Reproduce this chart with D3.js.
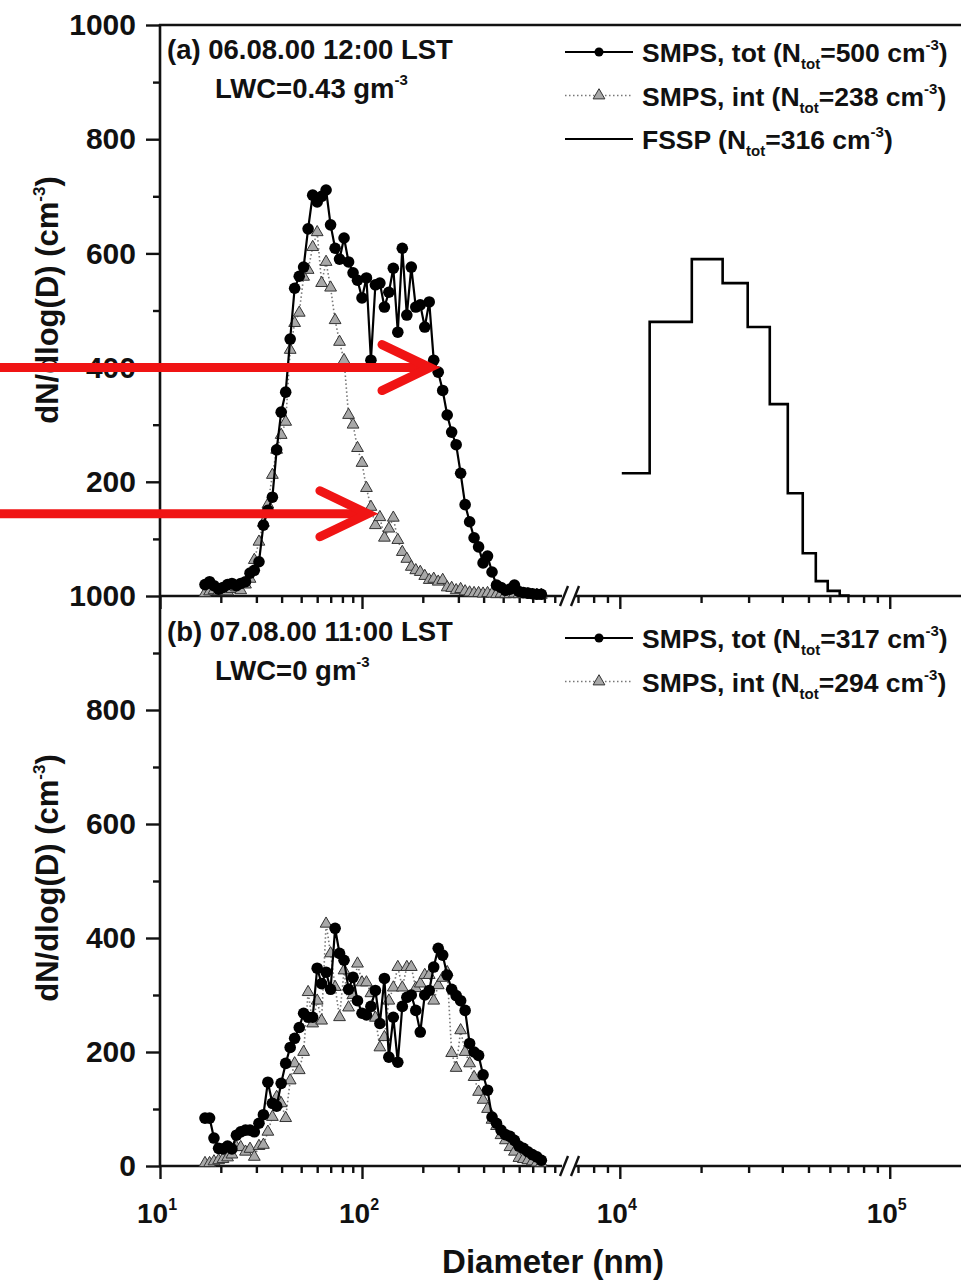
<!DOCTYPE html>
<html>
<head>
<meta charset="utf-8">
<script src="https://cdn.jsdelivr.net/npm/d3@7/dist/d3.min.js"></script>
<style>
body { margin: 0; background: #fff; }
text { font-family: 'Liberation Sans', Arial, sans-serif; font-weight: bold; fill: #111; }
</style>
</head>
<body>
<div class="graph"></div>
<script>
// SMPS channel diameters (nm), shared by both panels
var smpsDiam = [16.7, 17.6, 18.5, 19.5, 20.5, 21.6, 22.7, 23.9, 25.1, 26.5,
    27.9, 29.3, 30.9, 32.5, 34.2, 36.0, 37.8, 39.8, 41.9, 44.1,
    46.4, 48.9, 51.4, 54.1, 57.0, 60.0, 63.1, 66.4, 69.9, 73.6,
    77.4, 81.5, 85.8, 90.3, 95.0, 100.0, 105.2, 110.7, 116.5, 122.6,
    129.1, 135.8, 142.9, 150.4, 158.3, 166.7, 175.4, 184.6, 194.3, 204.5,
    215.2, 226.5, 238.4, 250.9, 264.1, 277.9, 292.5, 307.8, 324.0, 341.0,
    358.8, 377.7, 397.5, 418.3, 440.2, 463.3, 487.5, 513.1, 540.1, 568.3,
    598.2, 629.5, 662.5, 697.3, 733.8, 772.3];

// panel (a) 06.08.00 12:00
var totA = [20, 25, 18, 12, 15, 20, 22, 18, 22, 25,
    40, 45, 60, 124, 150, 173, 256, 322, 357, 450,
    539, 560, 576, 643, 702, 690, 700, 711, 650, 609,
    590, 627, 585, 566, 553, 522, 557, 413, 545, 548,
    506, 532, 574, 462, 609, 492, 576, 506, 510, 471,
    515, 413, 392, 360, 317, 287, 265, 215, 160, 130,
    102, 86, 58, 70, 42, 19, 15, 10, 12, 19,
    8, 6, 5, 4, 3, 3];
var intA = [5, 8, 10, 8, 10, 8, 12, 15, 10, 20,
    30, 63, 95, 128, 160, 212, 256, 282, 305, 431,
    478, 496, 559, 571, 611, 637, 548, 585, 540, 483,
    445, 413, 317, 300, 259, 233, 189, 156, 124, 138,
    102, 118, 137, 98, 77, 65, 51, 45, 42, 35,
    28, 30, 25, 28, 15, 14, 10, 12, 8, 6,
    5, 5, 4, 5, 4, 3, 4, 3, 3, 4,
    3, 3, 3, 2, 2, 2];

// panel (b) 07.08.00 11:00
var totB = [84, 84, 49, 31, 30, 35, 30, 54, 60, 63,
    63, 60, 75, 90, 147, 110, 105, 145, 180, 208,
    224, 243, 268, 261, 261, 347, 320, 340, 310, 417,
    373, 361, 310, 331, 290, 268, 265, 280, 308, 250,
    329, 191, 261, 182, 280, 296, 300, 273, 235, 300,
    308, 349, 382, 370, 335, 310, 299, 290, 273, 215,
    200, 194, 160, 133, 86, 75, 63, 55, 52, 45,
    35, 31, 25, 20, 16, 10];
var intB = [5, 5, 8, 10, 12, 15, 20, 33, 33, 25,
    30, 16, 35, 37, 60, 86, 121, 110, 84, 150,
    180, 168, 200, 305, 250, 290, 255, 425, 373, 314,
    261, 343, 278, 300, 355, 322, 322, 303, 260, 208,
    226, 290, 313, 349, 313, 349, 349, 312, 320, 335,
    335, 290, 317, 330, 340, 198, 172, 238, 200, 180,
    156, 130, 116, 100, 81, 70, 54, 45, 33, 25,
    14, 12, 10, 8, 6, 5];

// FSSP histogram, panel (a): bin edges (nm) and dN/dlog(D)
var fsspEdges = [10170, 12900, 18480, 24040, 29770, 35940, 41910, 47610, 53220, 58920, 65270, 71100];
var fsspValues = [215, 480, 590, 548, 471, 336, 180, 75, 26, 9, 1];

var legendA = ['SMPS, tot', 'SMPS, int', 'FSSP'];
var ntotA = [500, 238, 316];
var legendB = ['SMPS, tot', 'SMPS, int'];
var ntotB = [317, 294];

var yMajorA = [200, 400, 600, 800, 1000];
var yMajorB = [0, 200, 400, 600, 800, 1000];
var yMinor = [100, 300, 500, 700, 900];
var xMajorLeft = [10, 100];
var xMinorLeft = [20, 30, 40, 50, 60, 70, 80, 90, 200, 300, 400, 500, 600, 700, 800, 900];
var xMajorRight = [10000, 100000];
var xMinorRight = [7000, 8000, 9000, 20000, 30000, 40000, 50000, 60000, 70000, 80000, 90000];

// red annotation arrows: tip at (diameter, value) in panel (a)
var arrowTips = [[217, 400], [107, 144]];

var width = 961,
    height = 1284;

var svg = d3.select('div.graph')
    .append('svg')
        .attr('width', width)
        .attr('height', height);

var xLeft = d3.scaleLog()
    .domain([10, 1000])
    .range([160, 564]);
var xRight = d3.scaleLog()
    .domain([7000, 200000])
    .range([578, 971]);

var yA = d3.scaleLinear()
    .domain([0, 1000])
    .range([596, 25]);
var yB = d3.scaleLinear()
    .domain([0, 1000])
    .range([1166, 596]);

var styleAxis = function(g) {
    g.select('.domain').remove();
    g.selectAll('line').attr('stroke', '#111').attr('stroke-width', 2.4);
    g.selectAll('text').style('font-size', '30px').attr('fill', '#111');
};

// y axes
[[yA, yMajorA], [yB, yMajorB]].forEach((p) => {
    svg.append('g')
        .attr('transform', 'translate(160,0)')
        .call(d3.axisLeft(p[0]).tickValues(p[1]).tickSize(14).tickPadding(10).tickFormat(d3.format('d')))
        .call(styleAxis);
    svg.append('g')
        .attr('transform', 'translate(160,0)')
        .call(d3.axisLeft(p[0]).tickValues(yMinor).tickSize(7).tickFormat(''))
        .call(styleAxis);
});
svg.append('line')
    .attr('x1', 160).attr('x2', 160)
    .attr('y1', 24).attr('y2', 1167)
    .attr('stroke', '#111').attr('stroke-width', 2.6);
svg.append('line')
    .attr('x1', 159).attr('x2', width)
    .attr('y1', 25).attr('y2', 25)
    .attr('stroke', '#111').attr('stroke-width', 2.6);

// x axes (shared bottom of (a) and bottom of (b)), with the break
[596, 1166].forEach((yy) => {
    svg.append('g')
        .attr('transform', 'translate(0,' + yy + ')')
        .call(d3.axisBottom(xLeft).tickValues(xMajorLeft).tickSize(13).tickFormat(''))
        .call(styleAxis);
    svg.append('g')
        .attr('transform', 'translate(0,' + yy + ')')
        .call(d3.axisBottom(xLeft).tickValues(xMinorLeft).tickSize(7).tickFormat(''))
        .call(styleAxis);
    svg.append('g')
        .attr('transform', 'translate(0,' + yy + ')')
        .call(d3.axisBottom(xRight).tickValues(xMajorRight).tickSize(13).tickFormat(''))
        .call(styleAxis);
    svg.append('g')
        .attr('transform', 'translate(0,' + yy + ')')
        .call(d3.axisBottom(xRight).tickValues(xMinorRight).tickSize(7).tickFormat(''))
        .call(styleAxis);
    svg.append('line')
        .attr('x1', 159).attr('x2', 562)
        .attr('y1', yy).attr('y2', yy)
        .attr('stroke', '#111').attr('stroke-width', 2.6);
    svg.append('line')
        .attr('x1', 575).attr('x2', width)
        .attr('y1', yy).attr('y2', yy)
        .attr('stroke', '#111').attr('stroke-width', 2.6);
    [564, 575].forEach((cx) => {
        svg.append('line')
            .attr('x1', cx - 4).attr('y1', yy + 10)
            .attr('x2', cx + 4).attr('y2', yy - 10)
            .attr('stroke', '#111').attr('stroke-width', 2.4);
    });
});

// x tick labels
var xLabels = xMajorLeft.map((v) => [xLeft(v), v]).concat(xMajorRight.map((v) => [xRight(v), v]));
var xt = svg.selectAll('text.xtick')
    .data(xLabels)
    .enter()
    .append('text')
        .attr('class', 'xtick')
        .attr('x', (d) => d[0] - 3)
        .attr('y', 1223)
        .attr('text-anchor', 'middle')
        .style('font-size', '28px');
xt.append('tspan').text('10');
xt.append('tspan')
    .attr('dy', -13)
    .style('font-size', '16px')
    .text((d) => Math.round(Math.log10(d[1])));

svg.append('text')
    .attr('x', 553)
    .attr('y', 1273)
    .attr('text-anchor', 'middle')
    .style('font-size', '33px')
    .text('Diameter (nm)');

// y titles
[300, 878].forEach((cy) => {
    var t = svg.append('text')
        .attr('transform', 'translate(58,' + cy + ') rotate(-90)')
        .attr('text-anchor', 'middle')
        .style('font-size', '31px');
    t.append('tspan').text('dN/dlog(D) (cm');
    t.append('tspan').attr('dy', -13).style('font-size', '17px').text('-3');
    t.append('tspan').attr('dy', 13).text(')');
});

// panel captions
var caption = function(y0, head, lwc) {
    svg.append('text')
        .attr('x', 167).attr('y', y0)
        .style('font-size', '27.5px')
        .text(head);
    var t = svg.append('text')
        .attr('x', 215).attr('y', y0 + 39)
        .style('font-size', '27.5px');
    t.append('tspan').text(lwc);
    t.append('tspan').attr('dy', -13).style('font-size', '15px').text('-3');
};
caption(59, '(a) 06.08.00 12:00 LST', 'LWC=0.43 gm');
caption(641, '(b) 07.08.00 11:00 LST', 'LWC=0 gm');

// data series
var triangle = d3.symbol().type(d3.symbolTriangle).size(60);

var drawSmps = function(y, tot, intv) {
    var pts = d3.zip(smpsDiam, intv);
    svg.append('path')
        .datum(pts)
        .attr('fill', 'none')
        .attr('stroke', '#777')
        .attr('stroke-width', 1.6)
        .attr('stroke-dasharray', '1.5,2.5')
        .attr('d', d3.line().x((d) => xLeft(d[0])).y((d) => y(d[1])));
    svg.append('g')
        .selectAll('path')
        .data(pts)
        .enter()
        .append('path')
            .attr('transform', (d) => 'translate(' + xLeft(d[0]) + ',' + y(d[1]) + ')')
            .attr('d', triangle)
            .attr('fill', '#a8a8a8')
            .attr('stroke', '#333')
            .attr('stroke-width', 1);

    var pts2 = d3.zip(smpsDiam, tot);
    svg.append('path')
        .datum(pts2)
        .attr('fill', 'none')
        .attr('stroke', '#000')
        .attr('stroke-width', 2.2)
        .attr('d', d3.line().x((d) => xLeft(d[0])).y((d) => y(d[1])));
    svg.append('g')
        .selectAll('circle')
        .data(pts2)
        .enter()
        .append('circle')
            .attr('cx', (d) => xLeft(d[0]))
            .attr('cy', (d) => y(d[1]))
            .attr('r', 5.8)
            .attr('fill', '#000');
};
drawSmps(yA, totA, intA);
drawSmps(yB, totB, intB);

// FSSP step line
var fsspPts = fsspEdges.map((e, i) => [e, fsspValues[Math.min(i, fsspValues.length - 1)]]);
svg.append('path')
    .datum(fsspPts)
    .attr('fill', 'none')
    .attr('stroke', '#000')
    .attr('stroke-width', 2.6)
    .attr('d', d3.line().curve(d3.curveStepAfter).x((d) => xRight(d[0])).y((d) => yA(d[1])));

// legends
var legend = function(y0, names, ntot) {
    names.forEach((name, i) => {
        var yy = y0 + i * 43.5;
        var ly = yy - 10;
        if (name === 'SMPS, tot') {
            svg.append('line')
                .attr('x1', 565).attr('x2', 633).attr('y1', ly).attr('y2', ly)
                .attr('stroke', '#000').attr('stroke-width', 2);
            svg.append('circle')
                .attr('cx', 599).attr('cy', ly).attr('r', 4.5).attr('fill', '#000');
        } else if (name === 'SMPS, int') {
            svg.append('line')
                .attr('x1', 565).attr('x2', 633).attr('y1', ly).attr('y2', ly)
                .attr('stroke', '#777').attr('stroke-width', 1.6).attr('stroke-dasharray', '1.5,2.5');
            svg.append('path')
                .attr('transform', 'translate(599,' + ly + ')')
                .attr('d', triangle)
                .attr('fill', '#a8a8a8').attr('stroke', '#333').attr('stroke-width', 1);
        } else {
            svg.append('line')
                .attr('x1', 565).attr('x2', 633).attr('y1', ly).attr('y2', ly)
                .attr('stroke', '#000').attr('stroke-width', 2);
        }
        var t = svg.append('text')
            .attr('x', 642).attr('y', yy)
            .style('font-size', '26.5px');
        t.append('tspan').text(name + ' (N');
        t.append('tspan').attr('dy', 7).style('font-size', '15px').text('tot');
        t.append('tspan').attr('dy', -7).text('=' + ntot[i] + ' cm');
        t.append('tspan').attr('dy', -12).style('font-size', '15px').text('-3');
        t.append('tspan').attr('dy', 12).text(')');
    });
};
legend(62, legendA, ntotA);
legend(648, legendB, ntotB);

// red arrows
arrowTips.forEach((a) => {
    var tx = xLeft(a[0]),
        ty = yA(a[1]);
    svg.append('line')
        .attr('x1', 0).attr('x2', tx - 6)
        .attr('y1', ty).attr('y2', ty)
        .attr('stroke', '#f01414').attr('stroke-width', 9);
    svg.append('path')
        .attr('d', 'M' + (tx - 48) + ',' + (ty - 23) + 'L' + tx + ',' + ty + 'L' + (tx - 48) + ',' + (ty + 23))
        .attr('fill', 'none')
        .attr('stroke', '#f01414')
        .attr('stroke-width', 9)
        .attr('stroke-linecap', 'round')
        .attr('stroke-linejoin', 'miter');
});
</script>
</body>
</html>
